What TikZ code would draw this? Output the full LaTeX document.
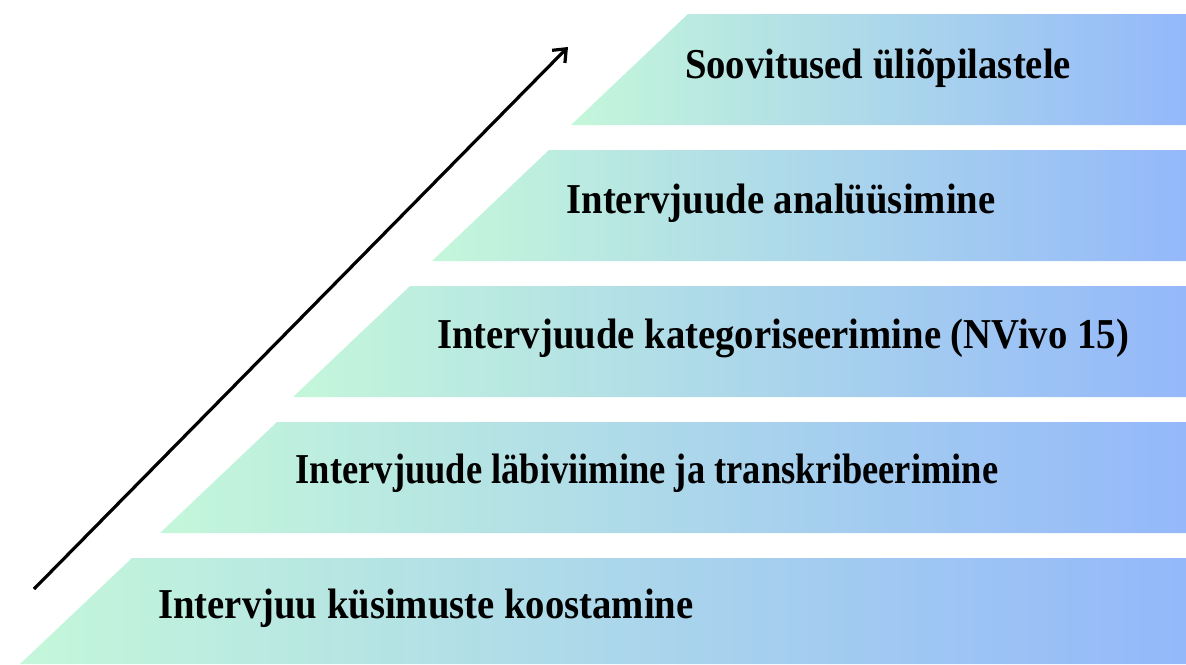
\documentclass[tikz,border=0pt]{standalone}
\usepackage{fontspec}
\setmainfont{Liberation Serif}
\usetikzlibrary{arrows.meta}
\definecolor{mint}{RGB}{196,247,218}
\definecolor{bluish}{RGB}{148,184,250}
\begin{document}
\begin{tikzpicture}[x=1pt,y=-1pt,
  band/.style={left color=mint, right color=bluish, draw=none},
  lbl/.style={font=\bfseries\fontsize{38.7}{44}\selectfont, text=black, inner sep=0pt, yscale=1.1},
  arr/.style={line width=3.2pt, -{Straight Barb[length=11pt,width=18pt,line width=3.2pt]}}]
\useasboundingbox (0,0) rectangle (1186,664);
\path[band] (688,14) -- (1186,14) -- (1186,125) -- (571,125) -- cycle;
\path[band] (549,150) -- (1186,150) -- (1186,261) -- (432,261) -- cycle;
\path[band] (410,286) -- (1186,286) -- (1186,397) -- (293,397) -- cycle;
\path[band] (277,422) -- (1186,422) -- (1186,533) -- (160,533) -- cycle;
\path[band] (132,558) -- (1186,558) -- (1186,664) -- (20,664) -- cycle;
\node[lbl] (t1) at (878,68) {Soovitused üliõpilastele};
\node[lbl] (t2) at (781,203) {Intervjuude analüüsimine};
\node[lbl] (t3) at (783,338) {Intervjuude kategoriseerimine (NVivo 15)};
\node[lbl, xscale=0.943] (t4) at (647,473) {Intervjuude läbiviimine ja transkribeerimine};
\node[lbl] (t5) at (426,608) {Intervjuu küsimuste koostamine};
\coordinate (a0) at (34,589);
\coordinate (a1) at (568,47);
\draw[arr] (a0) -- (a1);
\end{tikzpicture}
\end{document}
